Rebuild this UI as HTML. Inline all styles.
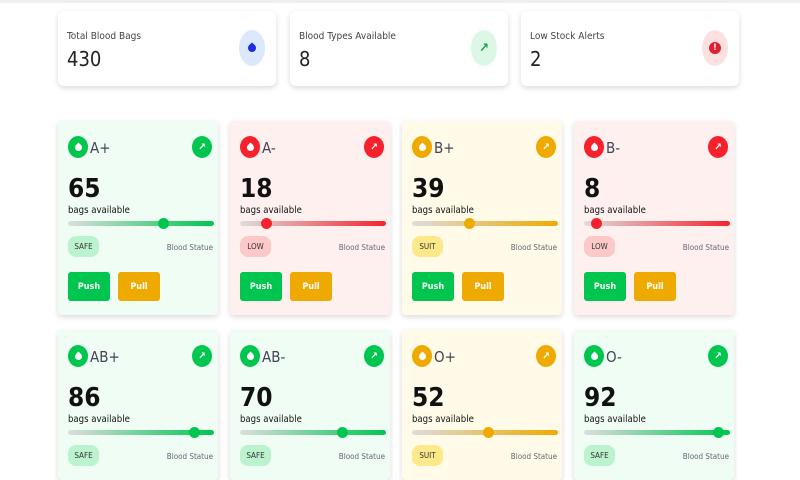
<!DOCTYPE html>
<html><head><meta charset="utf-8"><style>
*{box-sizing:border-box;margin:0;padding:0}
html,body{width:800px;height:480px;overflow:hidden}
body{background:#fff;font-family:"DejaVu Sans Condensed","Liberation Sans Narrow","Liberation Sans",sans-serif;position:relative}
.top{position:absolute;left:0;top:0;width:800px;height:3px;background:#eee}
.stat{position:absolute;top:11px;width:218px;height:75px;background:#fff;border-radius:6px;box-shadow:0 2px 6px rgba(0,0,0,.15)}
.stat .lbl{position:absolute;left:9px;top:20px;font-size:10px;color:#444}
.stat .val{position:absolute;left:9px;top:36px;font-size:20px;color:#222}
.stat .ic{position:absolute;right:11px;top:19px;width:26px;height:36px;border-radius:50%;display:flex;align-items:center;justify-content:center;font-size:13px;font-weight:bold}
.drop{width:7px;height:7px;border-radius:0 50% 50% 50%;transform:rotate(45deg);display:block}
.card{position:absolute;width:160px;height:194px;border-radius:4px;box-shadow:0 2px 6px rgba(0,0,0,.15);overflow:hidden}
.circ{position:absolute;width:20px;height:22px;border-radius:50%;display:flex;align-items:center;justify-content:center;color:#fff;font-size:10px}
.type{position:absolute;left:32px;top:18px;font-size:15px;color:#445}
.num{position:absolute;left:10px;top:53px;font-size:26px;font-weight:bold;color:#111}
.bags{position:absolute;left:10px;top:84px;font-size:9.5px;color:#111}
.track{position:absolute;left:10px;top:100px;width:146px;height:5px;border-radius:3px}
.thumb{position:absolute;top:-3px;width:11px;height:11px;border-radius:50%;margin-left:-5px}
.badge{position:absolute;left:10px;top:115px;width:31px;height:21px;border-radius:8px;font-size:8px;display:flex;align-items:center;justify-content:center;color:#333}
.bs{position:absolute;right:5px;top:122px;font-size:8px;color:#667}
.btn{position:absolute;top:151px;width:42px;height:29px;border-radius:3px;color:#fff;font-size:9px;font-weight:bold;display:flex;align-items:center;justify-content:center}
</style></head><body>
<div class="top"></div>
<div class="stat" style="left:58px"><div class="lbl">Total Blood Bags</div><div class="val">430</div><div class="ic" style="background:#dce8fb"><span class="drop" style="background:#1a2ee0;width:8px;height:8px"></span></div></div>
<div class="stat" style="left:290px"><div class="lbl">Blood Types Available</div><div class="val">8</div><div class="ic" style="background:#dcf7e6;color:#12a64a">↗</div></div>
<div class="stat" style="left:521px"><div class="lbl">Low Stock Alerts</div><div class="val">2</div><div class="ic" style="background:#fde0e0;color:#e02030"><span style="background:#e02030;color:#fff;border-radius:50%;width:12px;height:12px;font-size:9px;display:flex;align-items:center;justify-content:center">!</span></div></div>
<div id="cards"></div>
<script>
const types=["A+","A-","B+","B-","AB+","AB-","O+","O-"];
const values=[65,18,39,8,86,70,52,92];
const statuses=["SAFE","LOW","SUIT","LOW","SAFE","SAFE","SUIT","SAFE"];
const themes={SAFE:{bg:"#f0fdf4",c:"#00c64f",b:"#bbf3cf"},LOW:{bg:"#fff0f0",c:"#f5222d",b:"#fdc8c8"},SUIT:{bg:"#fffbe8",c:"#eeaa00",b:"#fde98a"}};
const root=document.getElementById('cards');
types.forEach((t,i)=>{
  const th=themes[statuses[i]];
  const col=i%4,row=Math.floor(i/4);
  const d=document.createElement('div');
  d.className='card';
  
  
  const top=121+row*209;
  d.style.left=(58+col*172)+'px';d.style.top=top+'px';d.style.background=th.bg;
  d.style.height=Math.min(194,480-top)+'px';
  d.innerHTML=`<div class="circ" style="left:10px;top:15px;background:${th.c}"><span class="drop" style="background:#fff"></span></div><div class="type">${t}</div>
<div class="circ" style="left:134px;top:15px;background:${th.c};font-weight:bold">↗</div>
<div class="num">${values[i]}</div><div class="bags">bags available</div>
<div class="track" style="background:linear-gradient(90deg,#ddd,${th.c})"><div class="thumb" style="left:${values[i]}%;background:${th.c}"></div></div>
<div class="badge" style="background:${th.b}">${statuses[i]}</div><div class="bs">Blood Statue</div>
<div class="btn push" style="left:10px;background:#00c64f">Push</div><div class="btn pull" style="left:60px;background:#eeaa00">Pull</div>`;
  root.appendChild(d);
  const tr=d.querySelector('.track');
  
  
  const pu=d.querySelector('.push');
  
  
  const pl=d.querySelector('.pull');
  
  
  const bd=d.querySelector('.badge');
  
  
});
</script>
</body></html>
